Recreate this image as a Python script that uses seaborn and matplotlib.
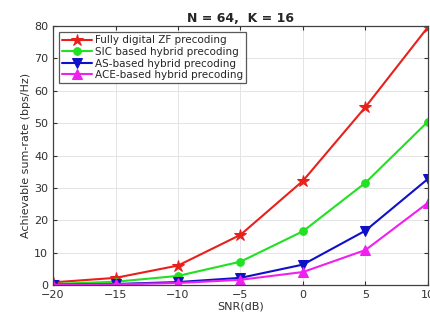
import numpy as np
import pandas as pd
import matplotlib
matplotlib.use("Agg")
import matplotlib.pyplot as plt
import seaborn as sns

snr_db = [-20, -15, -10, -5, 0, 5, 10]
fully_digital = [0.8, 2.2, 6.0, 15.5, 32.2, 55.0, 79.7]
sic_hybrid = [0.3, 1.0, 2.8, 7.2, 16.6, 31.6, 50.5]
as_hybrid = [0.1, 0.3, 0.9, 2.2, 6.3, 16.8, 32.8]
ace_hybrid = [0.05, 0.2, 0.6, 1.6, 4.0, 10.8, 25.4]

labels = ["Fully digital ZF precoding", "SIC based hybrid precoding",
          "AS-based hybrid precoding", "ACE-based hybrid precoding"]
series = [fully_digital, sic_hybrid, as_hybrid, ace_hybrid]
colors = ["#e8201c", "#22e022", "#1010c8", "#f020f0"]
markers = ["*", "o", "v", "^"]
msizes = [9, 5.5, 6.5, 6.5]

sns.set_style("whitegrid")
plt.rcParams['font.family'] = ['DejaVu Sans']

fig = plt.figure(figsize=(4.31, 3.22), dpi=100)
ax = fig.add_axes([0.123, 0.115, 0.870, 0.804])

for lab, vals, c, m, ms in zip(labels, series, colors, markers, msizes):
    df = pd.DataFrame({"snr": snr_db, "rate": vals})
    sns.lineplot(data=df, x="snr", y="rate", ax=ax, color=c, marker=m,
                 markersize=ms, linewidth=1.5, label=lab,
                 markeredgecolor=c, markerfacecolor=c)

ax.set_xlim(-20, 10)
ax.set_ylim(0, 80)
ax.set_xticks(snr_db)
ax.set_yticks(range(0, 81, 10))
ax.grid(True, color="#e4e4e4", linewidth=0.7)
for s in ax.spines.values():
    s.set_color("#404040")
    s.set_linewidth(0.9)
ax.tick_params(direction="in", length=3, labelsize=8, colors="#303030",
               top=True, right=True, left=True, bottom=True)
ax.set_xlabel("SNR(dB)", fontsize=8, color="#303030", labelpad=1)
ax.set_ylabel("Achievable sum-rate (bps/Hz)", fontsize=8, color="#303030", labelpad=2)
ax.set_title("N = 64,  K = 16", fontsize=9, fontweight="bold", pad=3)

leg = ax.legend(loc="upper left", fontsize=7.5, frameon=True, fancybox=False,
                borderpad=0.3, labelspacing=0.15, handlelength=2.8,
                handletextpad=0.3, borderaxespad=0.6)
leg.get_frame().set_edgecolor("#303030")
leg.get_frame().set_linewidth(0.9)

fig.savefig("out.png", dpi=100)
